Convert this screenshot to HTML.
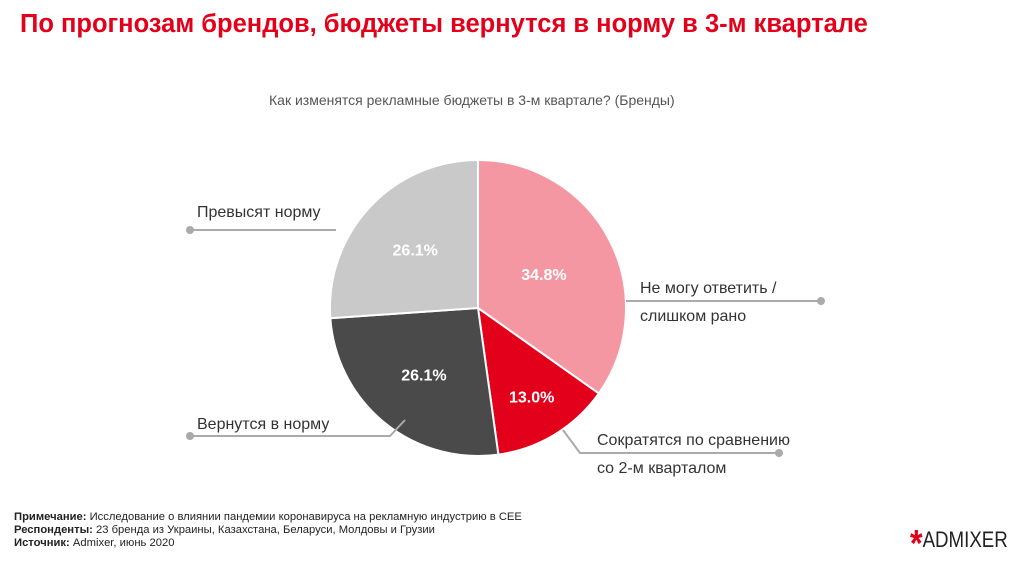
<!DOCTYPE html>
<html><head><meta charset="utf-8"><style>
body{margin:0;width:1024px;height:559px;background:#fff;font-family:"Liberation Sans","DejaVu Sans",sans-serif;overflow:hidden;position:relative}
.t{position:absolute;white-space:nowrap}
</style></head><body>
<div class="t" style="left:20px;top:10px;font-size:25.5px;font-weight:bold;color:#e2001a">По прогнозам брендов, бюджеты вернутся в норму в 3-м квартале</div>
<div class="t" style="left:269px;top:92px;font-size:14px;color:#555">Как изменятся рекламные бюджеты в 3-м квартале? (Бренды)</div>
<svg id="chart" width="1024" height="559" style="position:absolute;left:0;top:0"></svg>
<div class="t" style="left:14px;top:511px;font-size:11px;line-height:13px;color:#222;transform:scaleX(1.02);transform-origin:left top"><b>Примечание:</b> Исследование о влиянии пандемии коронавируса на рекламную индустрию в CEE<br><b>Респонденты:</b> 23 бренда из Украины, Казахстана, Беларуси, Молдовы и Грузии<br><b>Источник:</b> Admixer, июнь 2020</div>
<div class="t" style="left:910px;top:514px;font-size:22px;color:#222;transform:scaleX(0.85);transform-origin:left top"><span style="color:#e2001a;font-size:38px;font-weight:bold;position:relative;top:9px">*</span>ADMIXER</div>
<script>
const categories=["Не могу ответить / слишком рано","Сократятся по сравнению со 2-м кварталом","Вернутся в норму","Превысят норму"];
const values=[34.8,13.0,26.1,26.1];
const labels=["34.8%","13.0%","26.1%","26.1%"];
const colors=["#f597a3","#e2001a","#4a4a4a","#c9c9c9"];
const svg=document.getElementById('chart');
const NS="http://www.w3.org/2000/svg";
const cx=478,cy=308,r=148;
const total=values.reduce((a,b)=>a+b,0);
function pt(a,rr){return [cx+rr*Math.sin(a),cy-rr*Math.cos(a)];}
let a0=0;
values.forEach((v,i)=>{
  const a1=a0+v/total*2*Math.PI;
  const p0=pt(a0,r),p1=pt(a1,r);
  const large=(a1-a0)>Math.PI?1:0;
  const p=document.createElementNS(NS,'path');
  p.setAttribute('d',`M${cx},${cy}L${p0[0]},${p0[1]}A${r},${r} 0 ${large} 1 ${p1[0]},${p1[1]}Z`);
  p.setAttribute('fill',colors[i]);p.setAttribute('stroke','#fff');p.setAttribute('stroke-width','2');
  
  
  svg.appendChild(p);
  const m=(a0+a1)/2,lp=pt(m,r*(0.5+(0.35-v/total)*0.9));
  const t=document.createElementNS(NS,'text');
  t.setAttribute('x',lp[0]);t.setAttribute('y',lp[1]+6);t.setAttribute('text-anchor','middle');
  t.setAttribute('fill','#fff');t.setAttribute('font-size','16');t.setAttribute('font-weight','bold');
  t.textContent=labels[i];
  
  
  svg.appendChild(t);
  a0=a1;
});
const leaders=[
 {pts:"626,301 821,301",dot:[821,301],lines:["Не могу ответить /","слишком рано"],x:640,y:293},
 {pts:"563,430 580,453 779,453",dot:[779,453],lines:["Сократятся по сравнению","со 2-м кварталом"],x:597,y:445},
 {pts:"405,420 390,436 190,436",dot:[190,436],lines:["Вернутся в норму"],x:197,y:429},
 {pts:"336,230 190,230",dot:[190,230],lines:["Превысят норму"],x:197,y:217}
];
leaders.forEach((l,i)=>{
  const pl=document.createElementNS(NS,'polyline');
  pl.setAttribute('points',l.pts);pl.setAttribute('fill','none');pl.setAttribute('stroke','#aaa');pl.setAttribute('stroke-width','2');
  
  
  svg.appendChild(pl);
  const c=document.createElementNS(NS,'circle');
  c.setAttribute('cx',l.dot[0]);c.setAttribute('cy',l.dot[1]);c.setAttribute('r','4');c.setAttribute('fill','#aaa');
  
  
  svg.appendChild(c);
  l.lines.forEach((s,j)=>{
    const t=document.createElementNS(NS,'text');
    t.setAttribute('x',l.x);t.setAttribute('y',l.y+j*28);t.setAttribute('fill','#333');t.setAttribute('font-size','16');
    t.textContent=s;
    
    
    svg.appendChild(t);
  });
});
</script>
</body></html>
